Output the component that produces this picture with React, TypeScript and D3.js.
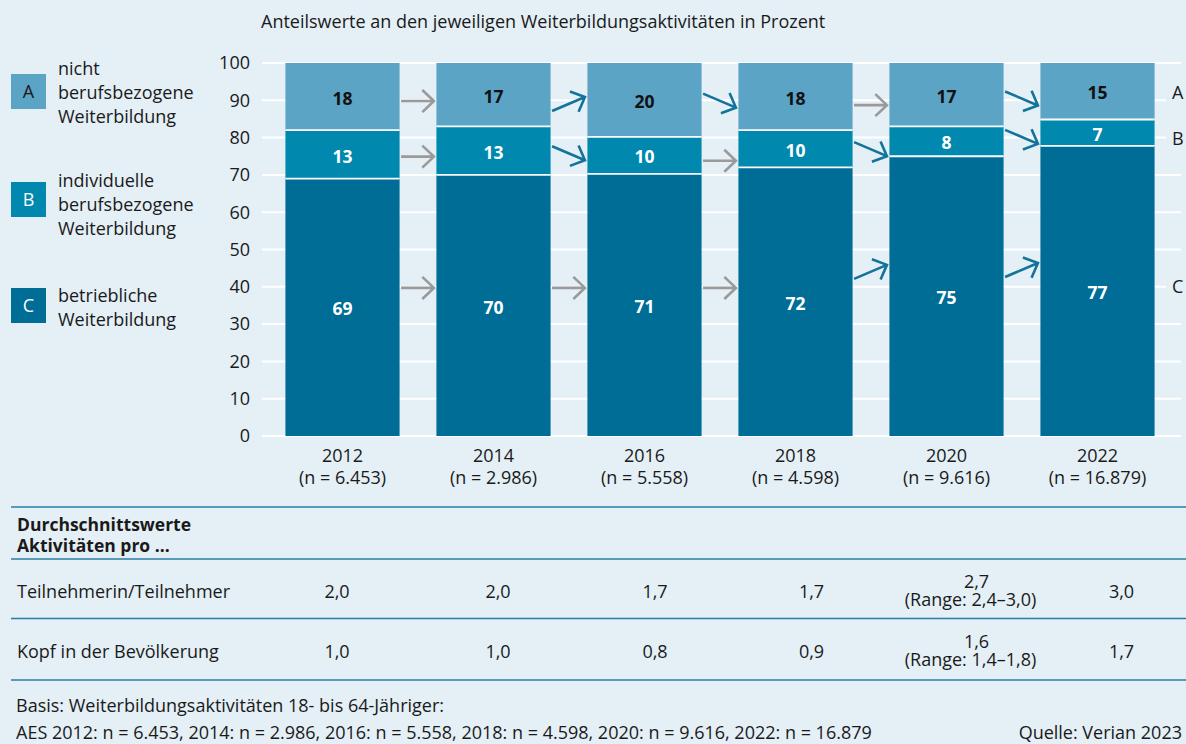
import React from 'react';
import * as d3 from 'd3';

// ---------- data ----------
const years = ['2012', '2014', '2016', '2018', '2020', '2022'];
const sampleN = ['6.453', '2.986', '5.558', '4.598', '9.616', '16.879'];
const valuesA = [18, 17, 20, 18, 17, 15]; // nicht berufsbezogene
const valuesB = [13, 13, 10, 10, 8, 7]; // individuelle berufsbezogene
const valuesC = [69, 70, 71, 72, 75, 77]; // betriebliche
const trendA = [0, 1, -1, 0, -1];
const trendB = [0, -1, 0, -1, -1];
const trendC = [0, 0, 0, 1, 1];
const arrowLevelA = [89.8, 89.0, 89.9, 88.7, 90.5];
const arrowLevelB = [74.9, 75.8, 73.8, 76.9, 80.2];
const arrowLevelC = [39.7, 39.7, 39.7, 44.0, 44.5];
const rightLetterLevels = [92, 79.6, 40];
const yTicks = [0, 10, 20, 30, 40, 50, 60, 70, 80, 90, 100];
const perParticipant = ['2,0', '2,0', '1,7', '1,7', '2,7', '3,0'];
const perParticipantRange = ['', '', '', '', '(Range: 2,4–3,0)', ''];
const perCapita = ['1,0', '1,0', '0,8', '0,9', '1,6', '1,7'];
const perCapitaRange = ['', '', '', '', '(Range: 1,4–1,8)', ''];
const legendItems = [
  { key: 'A', lines: ['nicht', 'berufsbezogene', 'Weiterbildung'] },
  { key: 'B', lines: ['individuelle', 'berufsbezogene', 'Weiterbildung'] },
  { key: 'C', lines: ['betriebliche', 'Weiterbildung'] },
];

// ---------- layout / style ----------
const W = 1186;
const H = 744;
const BG = '#e4eff6';
const COLORS: Record<string, string> = { A: '#5ca4c5', B: '#0088ae', C: '#006d96' };
const ARROW_BLUE = '#13739a';
const ARROW_GREY = '#9a9a9a';
const LINE_BLUE = '#2a7ea6';
const TEXT = '#1a1a1a';
const FONT = '"Open Sans", "Noto Sans", sans-serif';
const FS = 18;
const FSB = 17.5;
const tableCols = [253, 421, 575, 735, 888, 1057, 1186];

export default function App() {
  const x = d3.scaleBand<string>().domain(years).range([267, 1173]).paddingInner(0.244).paddingOuter(0.122);
  const y = d3.scaleLinear().domain([0, 1]).range([436, 63]);
  const bw = x.bandwidth();

  const rows = years.map((yr, i) => ({ year: yr, A: valuesA[i], B: valuesB[i], C: valuesC[i] }));
  const stacked = d3.stack<any>().keys(['C', 'B', 'A']).offset(d3.stackOffsetExpand)(rows);

  const arrowSets = [
    { trend: trendA, level: arrowLevelA },
    { trend: trendB, level: arrowLevelB },
    { trend: trendC, level: arrowLevelC },
  ];

  const arrows: JSX.Element[] = [];
  arrowSets.forEach((s, si) => {
    s.trend.forEach((t, i) => {
      const x0 = (x(years[i]) as number) + bw + 1.5;
      const x1 = (x(years[i + 1]) as number) - 2.5;
      const yc = y(s.level[i] / 100);
      const dy = 7 * t;
      const ys = yc + dy;
      const ye = yc - dy;
      const ang = Math.atan2(ye - ys, x1 - x0);
      const L = 16;
      const a1 = ang + Math.PI - 0.76;
      const a2 = ang + Math.PI + 0.76;
      const color = t === 0 ? ARROW_GREY : ARROW_BLUE;
      const path = d3.path();
      path.moveTo(x0, ys);
      path.lineTo(x1, ye);
      path.moveTo(x1 + L * Math.cos(a1), ye + L * Math.sin(a1));
      path.lineTo(x1, ye);
      path.lineTo(x1 + L * Math.cos(a2), ye + L * Math.sin(a2));
      arrows.push(
        <path key={`ar-${si}-${i}`} d={path.toString()} fill="none" stroke={color} strokeWidth={2.6} strokeLinejoin="miter" />
      );
    });
  });

  const colCenter = (i: number) => (tableCols[i] + tableCols[i + 1]) / 2;

  const tableRow = (vals: string[], ranges: string[], cy: number, label: string) => (
    <g>
      <text x={17} y={cy} dy="0.35em" fontSize={FS} fill={TEXT}>{label}</text>
      {vals.map((v, i) =>
        ranges[i] ? (
          <g key={i}>
            <text x={colCenter(i) + 4} y={cy - 10} dy="0.35em" textAnchor="middle" fontSize={FS} fill={TEXT}>{v}</text>
            <text x={colCenter(i) - 2} y={cy + 8} dy="0.35em" textAnchor="middle" fontSize={FS} fill={TEXT}>{ranges[i]}</text>
          </g>
        ) : (
          <text key={i} x={colCenter(i)} y={cy} dy="0.35em" textAnchor="middle" fontSize={FS} fill={TEXT}>{v}</text>
        )
      )}
    </g>
  );

  return (
    <div style={{ position: 'absolute', left: 0, top: 0 }}>
      <svg width={W} height={H} fontFamily={FONT} style={{ display: 'block' }}>
        <rect x={0} y={0} width={W} height={H} fill={BG} />
        {/* title */}
        <text x={261} y={22} dy="0.35em" fontSize={FS} fill={TEXT}>
          Anteilswerte an den jeweiligen Weiterbildungsaktivitäten in Prozent
        </text>

        {/* legend */}
        {legendItems.map((it, k) => {
          const boxY = [74, 182, 288][k];
          const lineY = [69, 181, 296][k];
          return (
            <g key={it.key}>
              <rect x={11} y={boxY} width={35} height={35} fill={COLORS[it.key]} />
              <text x={28.5} y={boxY + 17.5} dy="0.35em" textAnchor="middle" fontSize={FS} fill={it.key === 'A' ? TEXT : '#ffffff'}>
                {it.key}
              </text>
              {it.lines.map((ln, j) => (
                <text key={j} x={58} y={lineY + j * 24} dy="0.35em" fontSize={FS} fill={TEXT}>{ln}</text>
              ))}
            </g>
          );
        })}

        {/* gridlines + y ticks */}
        {yTicks.map((t) => (
          <g key={t}>
            <line x1={262} x2={1181} y1={y(t / 100)} y2={y(t / 100)} stroke="#ffffff" strokeWidth={2} />
            <text x={250} y={y(t / 100)} dy="0.35em" textAnchor="end" fontSize={FS} fill={TEXT}>{t}</text>
          </g>
        ))}

        {/* right letters */}
        {['A', 'B', 'C'].map((k, i) => (
          <g key={k}>
            <rect x={1166} y={y(rightLetterLevels[i] / 100) - 12} width={20} height={24} fill={BG} />
            <text x={1172} y={y(rightLetterLevels[i] / 100)} dy="0.35em" fontSize={FS} fill={TEXT}>{k}</text>
          </g>
        ))}

        {/* bars */}
        {stacked.map((layer) => (
          <g key={layer.key}>
            {layer.map((d: any, i: number) => (
              <rect
                key={i}
                x={x(years[i])}
                y={y(d[1])}
                width={bw}
                height={y(d[0]) - y(d[1])}
                fill={COLORS[layer.key]}
              />
            ))}
          </g>
        ))}
        {/* separators */}
        {stacked
          .filter((l) => l.key !== 'A')
          .map((layer) =>
            layer.map((d: any, i: number) => (
              <line
                key={`${layer.key}-${i}`}
                x1={x(years[i])}
                x2={(x(years[i]) as number) + bw}
                y1={y(d[1])}
                y2={y(d[1])}
                stroke="#ffffff"
                strokeWidth={1.8}
              />
            ))
          )}
        {/* value labels */}
        {stacked.map((layer) =>
          layer.map((d: any, i: number) => (
            <text
              key={`${layer.key}-l-${i}`}
              x={(x(years[i]) as number) + bw / 2}
              y={y((d[0] + d[1]) / 2) + 2}
              dy="0.35em"
              textAnchor="middle"
              fontSize={FSB}
              fontWeight={700}
              fill={layer.key === 'A' ? '#111111' : '#ffffff'}
            >
              {(d.data as any)[layer.key]}
            </text>
          ))
        )}

        {/* arrows */}
        {arrows}

        {/* x labels */}
        {years.map((yr, i) => (
          <g key={yr}>
            <text x={(x(yr) as number) + bw / 2} y={456} dy="0.35em" textAnchor="middle" fontSize={FS} fill={TEXT}>{yr}</text>
            <text x={(x(yr) as number) + bw / 2} y={478} dy="0.35em" textAnchor="middle" fontSize={FS} fill={TEXT}>
              (n = {sampleN[i]})
            </text>
          </g>
        ))}

        {/* table */}
        {[507, 559, 618.5, 680].map((ly) => (
          <line key={ly} x1={11} x2={W} y1={ly} y2={ly} stroke={LINE_BLUE} strokeWidth={1.6} />
        ))}
        <text x={17} y={525} dy="0.35em" fontSize={FSB} fontWeight={700} fill={TEXT}>Durchschnittswerte</text>
        <text x={17} y={546} dy="0.35em" fontSize={FSB} fontWeight={700} fill={TEXT}>Aktivitäten pro ...</text>
        {tableRow(perParticipant, perParticipantRange, 591.5, 'Teilnehmerin/Teilnehmer')}
        {tableRow(perCapita, perCapitaRange, 651.5, 'Kopf in der Bevölkerung')}

        {/* footer */}
        <text x={16} y={706} dy="0.35em" fontSize={FS} fill={TEXT}>
          Basis: Weiterbildungsaktivitäten 18- bis 64-Jähriger:
        </text>
        <text x={16} y={733} dy="0.35em" fontSize={FS} fill={TEXT}>
          AES 2012: n = 6.453, 2014: n = 2.986, 2016: n = 5.558, 2018: n = 4.598, 2020: n = 9.616, 2022: n = 16.879
        </text>
        <text x={1182} y={733} dy="0.35em" textAnchor="end" fontSize={FS} fill={TEXT}>Quelle: Verian 2023</text>
      </svg>
    </div>
  );
}
